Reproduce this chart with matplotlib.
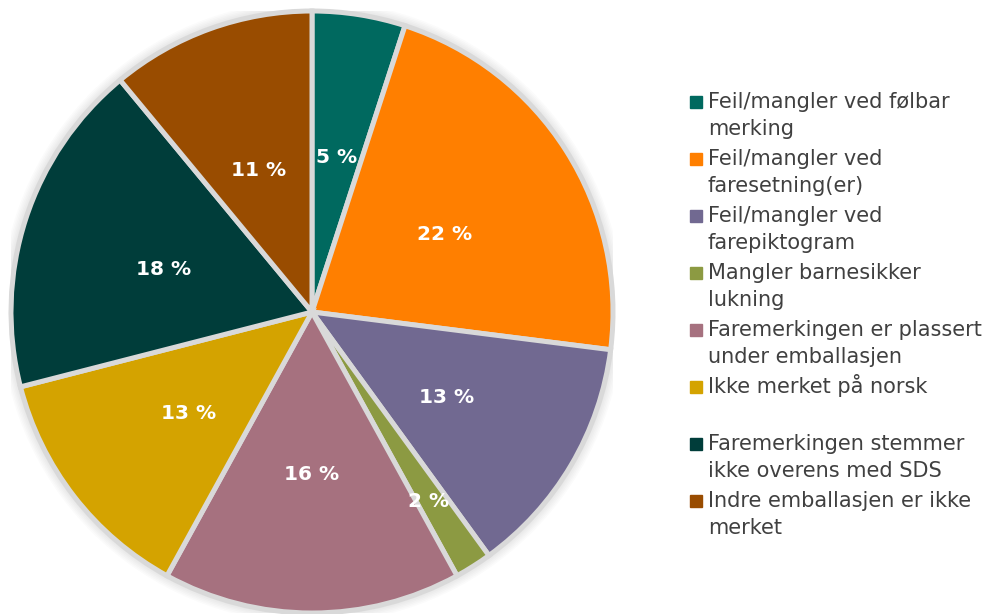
import matplotlib.pyplot as plt
from matplotlib.patches import Circle, Rectangle

# Andel avvik per kategori (prosent)
kategorier = [
    "Feil/mangler ved følbar\nmerking",
    "Feil/mangler ved\nfaresetning(er)",
    "Feil/mangler ved\nfarepiktogram",
    "Mangler barnesikker\nlukning",
    "Faremerkingen er plassert\nunder emballasjen",
    "Ikke merket på norsk",
    "Faremerkingen stemmer\nikke overens med SDS",
    "Indre emballasjen er ikke\nmerket",
]
andeler = [5, 22, 13, 2, 16, 13, 18, 11]
farger = ["#00695f", "#ff7f00", "#716991", "#8c9a42",
          "#a6717f", "#d4a300", "#003d3a", "#994c00"]

fig = plt.figure(figsize=(9.93, 6.14), dpi=100)
ax = fig.add_axes([11 / 993, 1 / 614, 602 / 993, 602 / 614])

# svak skygge rundt kaken
for i in range(8):
    ax.add_patch(Circle((0, 0), 1.0 + 0.005 * i, color="#000000",
                        alpha=0.014, zorder=0, lw=0))

wedges, tekster, pct = ax.pie(
    andeler, colors=farger, startangle=90, counterclock=False,
    autopct=lambda p: f"{p:.0f} %", pctdistance=0.52,
    wedgeprops=dict(edgecolor="#d9d9d9", linewidth=3.6),
    textprops=dict(color="white", fontsize=14.5, fontweight="bold"),
)
for i, t in enumerate(pct):
    x, y = t.get_position()
    if i == 3:
        x, y = x * 0.72 / 0.52, y * 0.72 / 0.52
    if i != 0:
        y -= 0.02
    t.set_position((x, y))

ax.set_xlim(-1, 1)
ax.set_ylim(-1, 1)
ax.set_aspect("equal")
ax.axis("off")

# Forklaring tegnet manuelt: ruten står ved første linje
px = lambda v: v / 993
py = lambda v: 1 - v / 614
linje = 27
mellom = 3
y0 = 108
for i, (navn, farge) in enumerate(zip(kategorier, farger)):
    fig.patches.append(Rectangle((px(690), py(y0 - 0.5)), 12 / 993, 12 / 614,
                                 transform=fig.transFigure, color=farge))
    for j, del_ in enumerate(navn.split("\n")):
        fig.text(px(708), py(y0), del_, color="#404040", fontsize=15,
                 va="baseline", ha="left")
        y0 += linje
    y0 += mellom
    if i == 5:
        y0 += linje

fig.savefig("out.png", dpi=100)
